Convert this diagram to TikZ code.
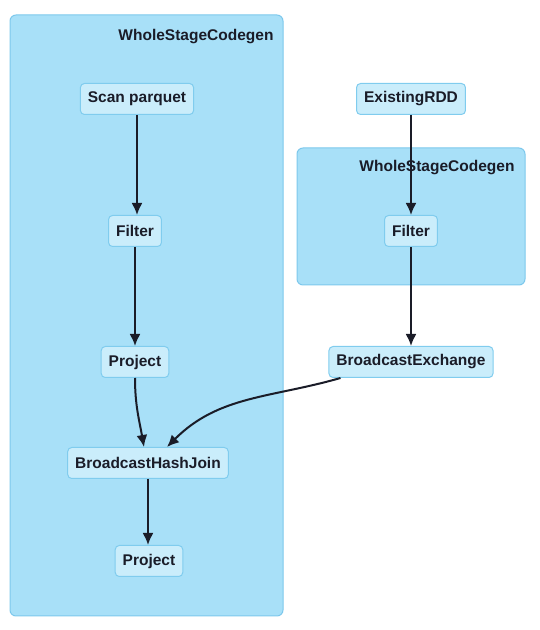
\documentclass[tikz,border=0pt]{standalone}
\usepackage{fontspec}
\setmainfont{Liberation Sans}
\usepackage{xcolor}
\definecolor{stageblue}{RGB}{168, 224, 248}
\definecolor{stageedge}{RGB}{125, 200, 236}
\definecolor{nodeblue}{RGB}{202, 237, 251}
\definecolor{nodeedge}{RGB}{128, 204, 238}
\definecolor{inkdark}{RGB}{26, 28, 40}
\usetikzlibrary{arrows.meta, positioning, calc}
\tikzset{
  stagebox/.style={draw=stageedge, fill=stageblue, rounded corners=6pt, line width=1pt},
  stagelabel/.style={anchor=east, font=\fontsize{15.5}{18}\selectfont\bfseries, text=inkdark},
  opnode/.style={rectangle, draw=nodeedge, fill=nodeblue, rounded corners=4pt, minimum height=31pt, inner xsep=7.5pt, font=\fontsize{15.5}{18}\selectfont\bfseries, text=inkdark, line width=1pt},
  flowarrow/.style={draw=inkdark, line width=2pt, -{Latex[length=12pt,width=11pt]}},
}
\begin{document}
\begin{tikzpicture}[x=1pt, y=1pt]
\useasboundingbox (0,0) rectangle (540,630);
% stages
\draw[stagebox] (10,14) rectangle (283,615);
\draw[stagebox] (297,345) rectangle (525,482);
\node[stagelabel] (leftstage) at (277,593) {WholeStageCodegen};
\node[stagelabel] (rightstage) at (518,462) {WholeStageCodegen};
% operators
\node[opnode] (scan) at (137,531) {Scan parquet};
\node[opnode] (filterA) at (135,399) {Filter};
\node[opnode] (projectA) at (135,268) {Project};
\node[opnode] (hashjoin) at (148,167) {BroadcastHashJoin};
\node[opnode] (projectB) at (149,69) {Project};
\node[opnode] (rdd) at (411,531) {ExistingRDD};
\node[opnode] (filterB) at (411,399) {Filter};
\node[opnode] (exchange) at (411,268) {BroadcastExchange};
% edges
\draw[flowarrow] (scan) -- (scan |- filterA.north);
\draw[flowarrow] (filterA) -- (filterA |- projectA.north);
\draw[flowarrow] (projectA.south) to[out=-90, in=100] ([xshift=-4pt]hashjoin.north);
\draw[flowarrow] (hashjoin) -- (hashjoin |- projectB.north);
\draw[flowarrow] (rdd) -- (filterB);
\draw[flowarrow] (filterB) -- (exchange);
\draw[flowarrow] ([xshift=12pt]exchange.south west) to[out=196, in=45] ([xshift=19pt]hashjoin.north);
\end{tikzpicture}
\end{document}
